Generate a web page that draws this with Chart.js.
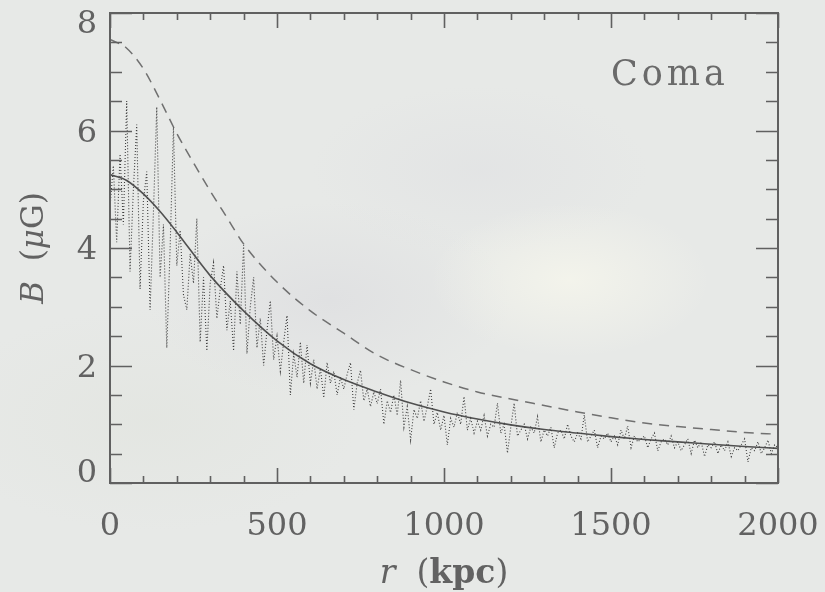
<!DOCTYPE html>
<html>
<head>
<meta charset="utf-8">
<script src="https://cdn.jsdelivr.net/npm/chart.js@4.4.1/dist/chart.umd.min.js"></script>
<style>
  html, body { margin: 0; padding: 0; }
  body {
    width: 825px; height: 592px; overflow: hidden;
    background:
      radial-gradient(ellipse 200px 110px at 570px 280px, rgba(246,246,236,0.8), rgba(246,246,236,0) 70%),
      radial-gradient(ellipse 260px 140px at 330px 300px, rgba(218,218,222,0.55), rgba(218,218,222,0) 70%),
      radial-gradient(ellipse 300px 160px at 150px 420px, rgba(225,228,222,0.6), rgba(225,228,222,0) 70%),
      radial-gradient(ellipse 240px 120px at 480px 170px, rgba(224,225,227,0.6), rgba(224,225,227,0) 70%),
      #e7e9e7;
  }
  canvas { display: block; }
</style>
</head>
<body>
<canvas id="chart" width="825" height="592"></canvas>
<script>
// ============================
// Dados
// ============================

// modelo ajustado (linha continua)
const modelR = [0, 50, 100, 150, 200, 300, 400, 500, 600, 700, 800, 900, 1000, 1100, 1200, 1300, 1400, 1500, 1600, 1700, 1800, 1900, 2000];
const modelB = [5.25, 5.15, 4.92, 4.62, 4.27, 3.53, 2.93, 2.42, 2.03, 1.76, 1.55, 1.36, 1.21, 1.09, 0.99, 0.91, 0.85, 0.79, 0.74, 0.70, 0.66, 0.62, 0.59];

// perfil tracejado
const dashR = [0, 50, 100, 150, 200, 250, 300, 350, 400, 500, 600, 700, 800, 900, 1000, 1100, 1200, 1300, 1400, 1500, 1600, 1700, 1800, 1900, 2000];
const dashB = [7.55, 7.4, 7.05, 6.52, 5.95, 5.45, 4.97, 4.52, 4.07, 3.42, 2.93, 2.55, 2.18, 1.93, 1.72, 1.55, 1.43, 1.32, 1.21, 1.11, 1.02, 0.96, 0.91, 0.86, 0.83];

// perfil simulado (pontilhado), um valor a cada 10 kpc
const simStep = 10;
const simB = [
  4.7, 5.4, 4.1, 5.6, 4.4, 6.5, 3.6, 5.0, 6.1, 3.3,
  4.8, 5.3, 2.95, 4.6, 6.4, 3.5, 4.4, 2.3, 4.0, 6.05,
  3.7, 4.3, 3.2, 2.95, 3.9, 3.4, 4.5, 2.4, 3.5, 2.25,
  3.4, 3.75, 2.8, 3.3, 3.7, 2.6, 3.1, 2.25, 3.6, 2.7,
  4.05, 2.2, 3.0, 3.5, 2.3, 2.8, 2.0, 2.6, 3.1, 2.1,
  2.5, 1.9, 2.4, 2.85, 1.5, 2.2, 1.8, 2.4, 1.7, 2.35,
  1.7, 2.1, 1.6, 1.95, 1.45, 2.05, 1.7, 1.9, 1.5, 1.8,
  1.6, 1.85, 2.05, 1.25, 1.7, 1.92, 1.4, 1.6, 1.3, 1.55,
  1.35, 1.6, 1.0, 1.4, 1.2, 1.5, 1.15, 1.75, 0.95, 1.3,
  0.73, 1.25, 1.1, 1.4, 1.05, 1.3, 1.6, 1.0, 1.2, 0.9,
  1.15, 0.65, 1.1, 0.95, 1.2, 1.0, 1.47, 0.9, 1.1, 0.85,
  1.05, 0.9, 1.15, 0.8, 1.0, 0.95, 1.36, 0.85, 1.0, 0.51,
  0.95, 1.36, 0.8, 0.9, 1.0, 0.75, 0.95, 0.85, 1.13, 0.7,
  0.9, 0.8, 0.95, 0.6, 0.85, 0.9, 0.75, 1.0, 0.8, 0.7,
  0.85, 0.75, 1.16, 0.7, 0.8, 0.9, 0.6, 0.8, 0.75, 0.85,
  0.7, 0.8, 0.65, 0.9, 0.75, 0.97, 0.6, 0.8, 0.7, 0.75,
  0.8, 0.6, 0.75, 0.85, 0.55, 0.7, 0.75, 0.65, 0.8, 0.6,
  0.7, 0.55, 0.65, 0.75, 0.5, 0.73, 0.6, 0.7, 0.45, 0.65,
  0.6, 0.7, 0.5, 0.65, 0.55, 0.7, 0.45, 0.6, 0.55, 0.65,
  0.75, 0.36, 0.6, 0.55, 0.7, 0.5, 0.6, 0.73, 0.5, 0.65,
  0.6
];

// eixos
const xMin = 0, xMax = 2000, xMajor = 500, xMinor = 100;
const yMin = 0, yMax = 8, yMajor = 2, yMinor = 0.5;
const yLabels = [0, 2, 4, 6, 8];
const clusterName = "Coma";

// ============================
// Estilos
// ============================
const FONT = "'DejaVu Serif', 'Liberation Serif', serif";
const INK = "#626262";

function pts(xs, ys) {
  return xs.map((x, i) => ({ x, y: ys[i] }));
}

// marcas de escala para dentro, bordas, titulos e rotulo
const framePlugin = {
  id: "frame",
  afterDatasetsDraw(chart) {
    const { ctx, chartArea: a, scales } = chart;
    const sx = scales.x, sy = scales.y;
    ctx.save();
    ctx.strokeStyle = "#606060";
    ctx.lineWidth = 2;
    ctx.strokeRect(a.left, a.top, a.right - a.left, a.bottom - a.top);

    ctx.lineWidth = 1.6;
    ctx.beginPath();
    for (let v = xMin; v <= xMax; v += xMinor) {
      const px = Math.round(sx.getPixelForValue(v)) + 0.5;
      const len = v % xMajor === 0 ? 15 : 7;
      ctx.moveTo(px, a.bottom); ctx.lineTo(px, a.bottom - len);
      ctx.moveTo(px, a.top); ctx.lineTo(px, a.top + len);
    }
    for (let v = yMin; v <= yMax + 1e-9; v += yMinor) {
      const py = Math.round(sy.getPixelForValue(v)) + 0.5;
      const len = Math.abs(v % yMajor) < 1e-9 ? 22 : 12;
      ctx.moveTo(a.left, py); ctx.lineTo(a.left + len, py);
      ctx.moveTo(a.right, py); ctx.lineTo(a.right - len, py);
    }
    ctx.stroke();

    // rotulos do eixo y (o de cima desce, o de baixo sobe, como no original)
    ctx.fillStyle = INK;
    ctx.font = "32px " + FONT;
    ctx.textAlign = "right";
    ctx.textBaseline = "middle";
    yLabels.forEach(v => {
      let py = sy.getPixelForValue(v) + 3;
      if (v === yMax) py += 9;
      if (v === yMin) py -= 12;
      ctx.fillText(String(v), a.left - 13, py);
    });

    ctx.textBaseline = "alphabetic";

    // titulo do eixo x: r (kpc)
    const xParts = [
      ["italic 33px " + FONT, "r"],
      ["33px " + FONT, "  ("],
      ["bold 33px " + FONT, "kpc"],
      ["33px " + FONT, ")"]
    ];
    drawParts(ctx, xParts, (a.left + a.right) / 2, 583);

    // titulo do eixo y: B (μG)
    ctx.save();
    ctx.translate(43, (a.top + a.bottom) / 2);
    ctx.rotate(-Math.PI / 2);
    const yParts = [
      ["italic 31px " + FONT, "B"],
      ["31px " + FONT, "  ("],
      ["italic 31px " + FONT, "μ"],
      ["31px " + FONT, "G)"]
    ];
    drawParts(ctx, yParts, 0, 0);
    ctx.restore();

    // nome do aglomerado
    ctx.font = "35px " + FONT;
    ctx.fillStyle = "#6a6a6a";
    ctx.textAlign = "left";
    ctx.letterSpacing = "4px";
    ctx.fillText(clusterName, 611, 85);
    ctx.restore();
  }
};

function drawParts(ctx, parts, cx, baseline) {
  let total = 0;
  parts.forEach(([f, t]) => { ctx.font = f; total += ctx.measureText(t).width; });
  let x = cx - total / 2;
  ctx.textAlign = "left";
  parts.forEach(([f, t]) => {
    ctx.font = f;
    ctx.fillText(t, x, baseline);
    x += ctx.measureText(t).width;
  });
}

new Chart(document.getElementById("chart"), {
  type: "line",
  data: {
    datasets: [
      {
        label: "simulado",
        data: pts(simB.map((_, i) => i * simStep), simB),
        borderColor: "#3f3f3f",
        borderWidth: 1.1,
        borderDash: [1, 2],
        pointRadius: 0,
        tension: 0
      },
      {
        label: "modelo",
        data: pts(modelR, modelB),
        borderColor: "#505050",
        borderWidth: 1.6,
        pointRadius: 0,
        cubicInterpolationMode: "monotone"
      },
      {
        label: "tracejado",
        data: pts(dashR, dashB),
        borderColor: "#707070",
        borderWidth: 1.5,
        borderDash: [10, 7],
        pointRadius: 0,
        cubicInterpolationMode: "monotone"
      }
    ]
  },
  options: {
    responsive: false,
    animation: false,
    layout: { padding: { left: 0, right: 47, top: 13, bottom: 0 } },
    plugins: { legend: { display: false }, tooltip: { enabled: false } },
    scales: {
      x: {
        type: "linear",
        min: xMin, max: xMax,
        afterFit: s => { s.height = 109; s.paddingLeft = 0; s.paddingRight = 0; },
        grid: { drawOnChartArea: false, drawTicks: false },
        border: { display: false },
        ticks: {
          stepSize: xMajor,
          padding: 24,
          color: INK,
          font: { family: FONT, size: 32 },
          maxRotation: 0,
          callback: v => String(v)
        }
      },
      y: {
        min: yMin, max: yMax,
        afterFit: s => { s.width = 110; s.paddingTop = 0; s.paddingBottom = 0; },
        grid: { drawOnChartArea: false, drawTicks: false },
        border: { display: false },
        ticks: { display: false, stepSize: yMajor }
      }
    }
  },
  plugins: [framePlugin]
});
</script>
</body>
</html>
